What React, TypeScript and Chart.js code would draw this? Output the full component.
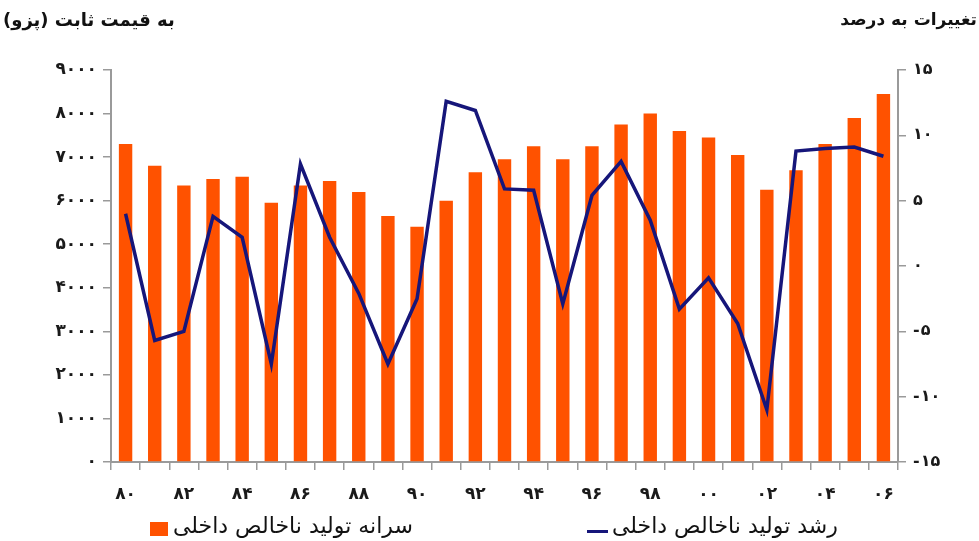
import React, { useEffect, useRef } from "react";
import { Chart, registerables } from "chart.js";

Chart.register(...registerables);

const years = ["۸۰","۸۱","۸۲","۸۳","۸۴","۸۵","۸۶","۸۷","۸۸","۸۹","۹۰","۹۱","۹۲","۹۳","۹۴","۹۵","۹۶","۹۷","۹۸","۹۹","۰۰","۰۱","۰۲","۰۳","۰۴","۰۵","۰۶"];
const gdpPerCapita = [7300,6800,6350,6500,6550,5950,6350,6450,6200,5650,5400,6000,6650,6950,7250,6950,7250,7750,8000,7600,7450,7050,6250,6700,7300,7900,8450];
const gdpGrowth = [4.0,-5.7,-5.0,3.8,2.2,-7.5,7.8,2.2,-2.1,-7.5,-2.5,12.6,11.9,5.9,5.8,-2.9,5.4,8.0,3.5,-3.3,-0.9,-4.4,-11.0,8.8,9.0,9.1,8.4];
const leftTickLabels: Record<number, string> = {0:"۰",1000:"۱۰۰۰",2000:"۲۰۰۰",3000:"۳۰۰۰",4000:"۴۰۰۰",5000:"۵۰۰۰",6000:"۶۰۰۰",7000:"۷۰۰۰",8000:"۸۰۰۰",9000:"۹۰۰۰"};
const rightTickValues = [15, 10, 5, 0, -5, -10, -15];
const rightTickDigits: Record<number, string> = {15:"۱۵",10:"۱۰",5:"۵",0:"۰",[-5]:"۵",[-10]:"۱۰",[-15]:"۱۵"};
const leftTitle = "به قیمت ثابت (پزو)";
const rightTitle = "تغییرات به درصد";
const barLabel = "سرانه تولید ناخالص داخلی";
const lineLabel = "رشد تولید ناخالص داخلی";

const FONT = "'DejaVu Sans', sans-serif";
const ORANGE = "#FF5200";
const NAVY = "#16167A";

// draws the right-axis labels so that the minus sign always sits on the left
const rightLabelsPlugin = {
  id: "rightLabels",
  afterDraw(chart: any) {
    const scale = chart.scales.y1;
    const ctx = chart.ctx;
    ctx.save();
    ctx.font = `bold 16px ${FONT}`;
    ctx.fillStyle = "#1a1a1a";
    ctx.textBaseline = "middle";
    ctx.textAlign = "left";
    const x0 = scale.left + 15;
    rightTickValues.forEach((v) => {
      const y = scale.getPixelForValue(v);
      let x = x0;
      if (v < 0) {
        ctx.fillText("-", x, y);
        x += ctx.measureText("-").width + 1;
      }
      ctx.fillText(rightTickDigits[v], x, y);
    });
    ctx.restore();
  },
};

export default function App() {
  const ref = useRef<HTMLCanvasElement | null>(null);
  useEffect(() => {
    if (!ref.current) return;
    const chart = new Chart(ref.current, {
      type: "bar",
      data: {
        labels: years,
        datasets: [
          {
            type: "line",
            label: lineLabel,
            data: gdpGrowth,
            yAxisID: "y1",
            borderColor: NAVY,
            backgroundColor: NAVY,
            borderWidth: 3.5,
            pointRadius: 0,
            tension: 0,
            order: 0,
          } as any,
          {
            type: "bar",
            label: barLabel,
            data: gdpPerCapita,
            yAxisID: "y",
            backgroundColor: ORANGE,
            borderWidth: 0,
            barPercentage: 0.46,
            categoryPercentage: 1,
            order: 1,
          } as any,
        ],
      },
      plugins: [rightLabelsPlugin],
      options: {
        animation: false,
        responsive: false,
        maintainAspectRatio: false,
        layout: { padding: { top: 70, left: 0, right: 0, bottom: 41 } },
        plugins: { legend: { display: false }, tooltip: { enabled: false } },
        scales: {
          x: {
            offset: true,
            grid: { offset: true, drawOnChartArea: false, drawTicks: true, tickLength: 8, color: "#9a9a9a", lineWidth: 1.5 },
            border: { display: true, color: "#9a9a9a", width: 2 },
            ticks: {
              autoSkip: false,
              maxRotation: 0,
              padding: 14,
              color: "#1a1a1a",
              font: { family: FONT, size: 17, weight: "bold" },
              callback: (_v: any, i: number) => (i % 2 === 0 ? years[i] : ""),
            },
            afterFit: (s: any) => { s.height = 38; },
          },
          y: {
            position: "left",
            min: 0,
            max: 9000,
            grid: { drawOnChartArea: false, drawTicks: true, tickLength: 8, color: "#9a9a9a", lineWidth: 1.5 },
            border: { display: true, color: "#9a9a9a", width: 2 },
            ticks: {
              stepSize: 1000,
              padding: 6,
              color: "#1a1a1a",
              font: { family: FONT, size: 17, weight: "bold" },
              callback: (v: any) => leftTickLabels[v] ?? "",
            },
            afterFit: (s: any) => { s.width = 111; },
          },
          y1: {
            position: "right",
            min: -15,
            max: 15,
            grid: { drawOnChartArea: false, drawTicks: true, tickLength: 8, color: "#9a9a9a", lineWidth: 1.5 },
            border: { display: true, color: "#9a9a9a", width: 2 },
            ticks: {
              stepSize: 5,
              display: false,
            },
            afterFit: (s: any) => { s.width = 81; },
          },
        },
      },
    });
    return () => chart.destroy();
  }, []);

  const textStyle: React.CSSProperties = {
    position: "absolute",
    fontFamily: FONT,
    color: "#111",
    direction: "rtl",
    whiteSpace: "nowrap",
    lineHeight: 1,
  };

  return (
    <div style={{ position: "absolute", left: 0, top: 0, width: 979, height: 541, background: "#fff", overflow: "hidden" }}>
      <canvas ref={ref} width={979} height={541} style={{ position: "absolute", left: 0, top: 0, width: 979, height: 541 }} />
      <div style={{ ...textStyle, left: 3, top: 11, fontSize: 18, fontWeight: "bold" }}>{leftTitle}</div>
      <div style={{ ...textStyle, right: 2, top: 11, fontSize: 17, fontWeight: "bold" }}>{rightTitle}</div>
      <div style={{ position: "absolute", left: 150, top: 522, width: 18, height: 14, background: ORANGE }} />
      <div style={{ ...textStyle, left: 173, top: 515, fontSize: 22 }}>{barLabel}</div>
      <div style={{ position: "absolute", left: 587, top: 530, width: 21, height: 3, background: NAVY }} />
      <div style={{ ...textStyle, left: 612, top: 515, fontSize: 22 }}>{lineLabel}</div>
    </div>
  );
}
